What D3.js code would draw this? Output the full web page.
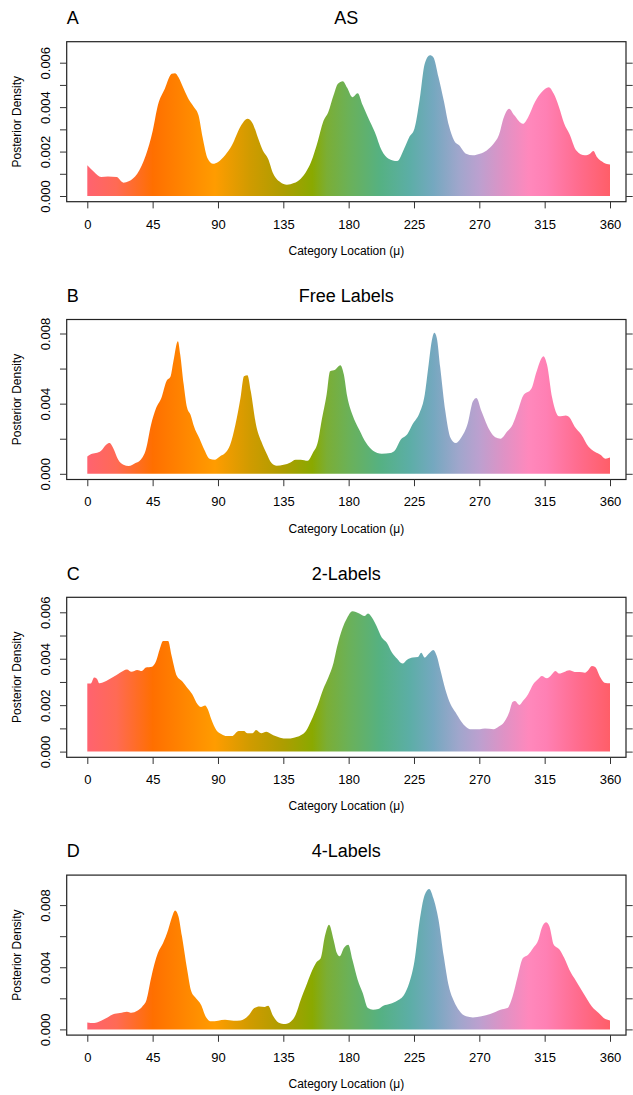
<!DOCTYPE html>
<html>
<head>
<meta charset="utf-8">
<script src="https://cdnjs.cloudflare.com/ajax/libs/d3/7.8.5/d3.min.js"></script>
<style>
  body { margin: 0; background: #fff; }
  svg { display: block; font-family: "Liberation Sans", Arial, sans-serif; }
</style>
</head>
<body>
<svg id="chart" width="633" height="1095"></svg>
<script>
// Posterior density of category locations — four panels, hue-gradient fill

// [location in degrees, density x 1e-3]
const asDensity = [
  [0,1.38],[4.7,1.08],[9.5,0.85],[14.2,0.88],[20.2,0.85],[24.9,0.60],[28.5,0.66],[34.4,1.00],
  [40.3,1.83],[45.1,2.95],[48.6,4.08],[53.4,4.83],[58.1,5.50],[60.5,5.53],[62.8,5.35],[66.4,4.83],
  [70.0,4.33],[73.5,4.00],[76.6,3.63],[79.4,2.65],[83.0,1.68],[86.6,1.45],[90.1,1.53],[94.9,1.83],
  [99.6,2.28],[105.5,3.13],[110.3,3.48],[113.8,3.28],[117.4,2.65],[120.9,2.05],[124.5,1.68],[128.1,1.00],
  [132.8,0.63],[137.5,0.51],[142.3,0.58],[147.0,0.78],[150.6,1.08],[154.1,1.53],[158.9,2.50],[162.4,3.33],
  [166.0,3.78],[169.6,4.53],[172.6,5.05],[176.0,5.17],[179.0,4.87],[182.6,4.45],[186.2,4.63],[189.7,4.08],
  [193.3,3.55],[198.0,2.88],[202.8,2.05],[207.5,1.68],[213.4,1.57],[218.2,2.13],[221.7,2.65],[225.3,3.03],
  [228.8,4.30],[232.4,5.95],[236.0,6.33],[238.3,6.25],[241.9,5.35],[245.5,4.30],[249.0,3.18],[252.6,2.50],
  [256.1,2.28],[260.9,1.90],[265.6,1.83],[270.4,1.90],[275.1,2.05],[279.8,2.35],[283.4,2.73],[286.9,3.55],
  [290.5,3.93],[294.1,3.63],[300.0,3.25],[303.6,3.55],[308.3,4.23],[313.0,4.68],[317.8,4.90],[321.3,4.60],
  [324.9,4.00],[328.5,3.25],[332.0,2.80],[336.8,2.05],[342.7,1.83],[346.2,1.90],[348.6,2.02],[351.0,1.75],
  [355.7,1.50],[360,1.42]
];

const freeDensity = [
  [0,0.99],[2.4,1.12],[5.9,1.18],[9.5,1.31],[13.0,1.66],[15.4,1.75],[17.8,1.47],[21.3,0.80],
  [24.9,0.51],[28.5,0.44],[33.2,0.61],[36.8,0.80],[40.3,1.37],[43.9,2.80],[47.4,3.75],[51.0,4.32],
  [54.5,5.28],[57.4,5.56],[59.3,6.42],[62.4,7.56],[64.0,6.80],[66.4,5.09],[68.8,3.75],[71.1,3.37],
  [73.5,2.70],[77.1,2.04],[80.6,1.37],[84.2,0.86],[87.7,0.80],[91.3,0.99],[94.9,1.18],[98.4,1.66],
  [102.0,2.80],[105.5,4.32],[107.9,5.56],[110.3,5.62],[112.6,4.70],[116.2,2.80],[119.8,1.85],[123.3,1.18],
  [126.9,0.61],[130.4,0.46],[135.2,0.51],[139.9,0.65],[143.5,0.80],[147.0,0.80],[151.8,0.74],[155.3,1.18],
  [158.9,1.85],[161.3,2.99],[164.8,4.51],[167.2,5.85],[170.7,5.94],[174.3,6.19],[176.7,5.66],[179.0,4.42],
  [182.6,3.37],[187.3,2.51],[192.1,1.75],[196.8,1.31],[202.8,1.14],[208.7,1.18],[212.2,1.37],[215.8,1.94],
  [220.5,2.27],[224.1,2.84],[228.8,3.47],[232.4,4.51],[234.8,6.04],[237.2,7.56],[239.0,8.04],[240.7,7.75],
  [243.1,6.04],[246.6,3.56],[250.2,2.04],[253.7,1.75],[257.3,2.04],[262.1,2.90],[265.6,4.13],[268.0,4.32],
  [271.5,3.56],[277.5,2.42],[281.0,2.08],[284.6,2.00],[289.3,2.42],[292.9,2.80],[296.4,3.56],[300.0,4.42],
  [305.9,4.86],[309.5,5.85],[314.2,6.70],[316.6,6.23],[320.2,4.32],[324.9,3.28],[329.6,3.33],[332.0,3.22],
  [335.6,2.70],[340.3,2.23],[345.1,1.56],[349.8,1.24],[353.4,1.09],[356.9,0.86],[360,0.93]
];

const twoLabelDensity = [
  [0,2.93],[2.4,2.93],[4.7,3.19],[6.6,3.14],[8.3,2.94],[13.0,3.04],[17.8,3.21],[22.5,3.40],
  [27.3,3.54],[30.4,3.44],[34.4,3.52],[37.5,3.47],[40.3,3.62],[44.6,3.66],[47.4,3.90],[49.8,4.40],
  [52.2,4.76],[55.7,4.76],[58.1,4.12],[61.7,3.26],[65.2,3.04],[68.8,2.75],[72.3,2.47],[75.9,2.04],
  [78.3,1.92],[81.1,1.99],[83.0,1.82],[85.4,1.39],[88.9,0.92],[92.5,0.75],[96.0,0.67],[99.6,0.67],
  [104.3,0.89],[107.9,0.89],[110.3,0.79],[113.8,0.79],[116.2,0.93],[119.8,0.79],[123.3,0.85],[128.1,0.70],
  [132.8,0.60],[137.5,0.56],[142.3,0.60],[147.0,0.70],[150.6,0.89],[154.1,1.32],[158.9,2.04],[162.4,2.68],
  [166.0,3.19],[169.6,3.83],[171.9,4.48],[175.5,5.27],[179.0,5.77],[182.6,6.05],[187.3,5.95],[190.9,5.84],
  [193.3,5.95],[196.8,5.70],[199.2,5.41],[202.8,4.91],[206.3,4.69],[209.9,4.26],[213.4,4.00],[217.0,3.79],
  [220.5,3.97],[224.1,4.05],[227.7,4.08],[230.0,4.26],[232.4,4.05],[234.8,4.19],[238.3,4.38],[240.7,4.12],
  [243.1,3.54],[246.6,2.68],[250.2,2.04],[253.7,1.68],[257.3,1.32],[260.9,1.06],[264.4,0.96],[270.4,0.96],
  [273.9,0.99],[279.8,0.96],[283.4,1.08],[286.9,1.25],[290.5,1.68],[292.9,2.14],[294.5,2.18],[297.6,2.01],
  [300.0,2.18],[303.6,2.47],[307.1,2.90],[310.7,3.14],[313.0,3.26],[316.6,3.16],[319.0,3.26],[322.5,3.47],
  [324.9,3.36],[328.5,3.43],[332.0,3.50],[335.6,3.43],[339.1,3.43],[342.7,3.40],[345.1,3.52],[347.5,3.69],
  [349.8,3.64],[353.4,3.19],[356.2,2.97],[360,2.94]
];

const fourLabelDensity = [
  [0,0.45],[4.7,0.41],[9.5,0.56],[14.2,0.79],[17.8,0.97],[22.5,1.05],[27.3,1.14],[30.4,1.07],
  [34.4,1.20],[37.9,1.48],[40.8,1.91],[43.9,3.30],[48.6,4.91],[52.2,5.56],[55.7,6.42],[58.1,7.17],
  [60.5,7.66],[62.8,7.27],[65.2,5.99],[68.8,3.84],[71.6,2.45],[74.7,2.02],[78.3,1.59],[81.8,0.79],
  [85.4,0.52],[90.1,0.56],[94.9,0.62],[100.8,0.56],[105.5,0.58],[111.5,0.94],[115.0,1.37],[118.6,1.48],
  [122.1,1.44],[124.5,1.52],[128.1,0.84],[131.6,0.45],[136.4,0.34],[140.4,0.52],[143.5,0.94],[147.0,1.91],
  [150.6,2.77],[154.1,3.63],[157.7,4.31],[160.8,4.59],[163.6,5.99],[166.5,6.74],[169.6,5.77],[171.9,4.91],
  [173.8,4.70],[176.7,5.24],[179.8,5.45],[182.6,4.48],[186.2,3.20],[189.7,2.34],[193.3,1.37],[196.8,1.27],
  [200.4,1.31],[203.9,1.52],[208.7,1.65],[213.4,1.85],[218.2,2.23],[221.7,2.98],[225.3,4.38],[228.8,6.95],
  [232.4,8.67],[235.5,9.03],[238.3,8.45],[241.9,7.06],[245.5,4.70],[249.0,2.77],[252.6,1.80],[256.1,1.22],
  [260.9,0.84],[265.6,0.77],[271.5,0.84],[277.5,0.99],[284.6,1.27],[289.3,1.37],[292.9,2.12],[296.4,3.41],
  [300.0,4.59],[303.6,4.81],[307.1,5.24],[310.7,5.77],[313.0,6.52],[315.9,6.89],[318.3,6.63],[321.3,5.45],
  [324.9,5.17],[328.5,4.59],[332.0,3.84],[336.8,3.09],[341.6,2.34],[347.5,1.48],[352.2,1.05],[355.7,0.73],
  [360,0.58]
];

const densityUnit = 1e-3;
const panelLetters = ['A', 'B', 'C', 'D'];
const panelTitles = ['AS', 'Free Labels', '2-Labels', '4-Labels'];
const panelSeries = [asDensity, freeDensity, twoLabelDensity, fourLabelDensity];
const yTickMax = [0.006, 0.008, 0.006, 0.008];
const yTickStep = [0.001, 0.002, 0.001, 0.002];
const xTicks = [0, 45, 90, 135, 180, 225, 270, 315, 360];

// hue ramp along the category circle
const hueStops = [
  [0, '#ff6370'], [20, '#ff6a55'], [45, '#ff6f00'], [65, '#ff8400'], [88, '#ff9c00'],
  [112, '#d09b00'], [135, '#ad9d00'], [155, '#8aa900'], [165, '#7bae35'], [180, '#6bb158'],
  [202, '#55b183'], [222, '#5caea6'], [238, '#74a8bf'], [256, '#a0a6cc'], [270, '#bca0cf'],
  [287, '#df92c5'], [304, '#ff88bc'], [316, '#ff80b4'], [338, '#ff6c8e'], [360, '#ff5e68']
];

// --- Layout ---
const boxLeft = 66.7, boxRight = 626, boxH = 160;
const firstTop = 41.7, pitch = 277.8;
const zeroOff = 154.3;
const maxTickOff = [21, 14, 15, 30];
const tickLen = 6.7;

const svg = d3.select('#chart');
const x = d3.scaleLinear().domain([0, 360]).range([87.3, 610]);

const grad = svg.append('defs').append('linearGradient')
  .attr('id', 'hue').attr('gradientUnits', 'userSpaceOnUse')
  .attr('x1', x(0)).attr('x2', x(360)).attr('y1', 0).attr('y2', 0);
grad.selectAll('stop').data(hueStops).join('stop')
  .attr('offset', d => d[0] / 360)
  .attr('stop-color', d => d[1]);

panelSeries.forEach((series, i) => {
  const top = firstTop + i * pitch;
  const g = svg.append('g');

  const y = d3.scaleLinear()
    .domain([0, yTickMax[i]])
    .range([top + zeroOff, top + maxTickOff[i]]);

  const area = d3.area()
    .x(d => x(d[0]))
    .y0(y(0))
    .y1(d => y(d[1] * densityUnit))
    .curve(d3.curveMonotoneX);

  g.append('path').datum(series)
    .attr('d', area)
    .attr('fill', 'url(#hue)');

  // frame
  g.append('rect')
    .attr('x', boxLeft).attr('y', top)
    .attr('width', boxRight - boxLeft).attr('height', boxH)
    .attr('fill', 'none').attr('stroke', '#222').attr('stroke-width', 1.2);

  // x axis
  const xa = g.append('g')
    .attr('transform', `translate(0,${top + boxH})`)
    .call(d3.axisBottom(x).tickValues(xTicks).tickSize(tickLen).tickPadding(11));
  xa.select('.domain').remove();
  xa.selectAll('line').attr('stroke', '#333');
  xa.selectAll('text').attr('font-size', 13).attr('fill', '#000')
    .attr('font-family', '"Liberation Sans", Arial, sans-serif');

  // y axis, labels on every other tick, rotated
  const yTicks = d3.range(0, yTickMax[i] + yTickStep[i] / 2, yTickStep[i]);
  const labelEvery = Math.round((yTickMax[i] / 3) / yTickStep[i]) || 1;
  const ya = g.append('g')
    .attr('transform', `translate(${boxLeft},0)`)
    .call(d3.axisLeft(y).tickValues(yTicks).tickSize(tickLen)
      .tickFormat((d, k) => k % 2 === 0 ? d3.format('.3f')(d) : ''));
  ya.select('.domain').remove();
  ya.selectAll('line').attr('stroke', '#333');
  ya.selectAll('text')
    .attr('x', 0).attr('y', -16.7).attr('dy', 0)
    .attr('transform', 'rotate(-90)')
    .attr('text-anchor', 'middle')
    .attr('font-size', 13).attr('fill', '#000')
    .attr('font-family', '"Liberation Sans", Arial, sans-serif');

  // right side ticks, no labels
  const yr = g.append('g')
    .attr('transform', `translate(${boxRight},0)`)
    .call(d3.axisRight(y).tickValues(yTicks).tickSize(tickLen).tickFormat(''));
  yr.select('.domain').remove();
  yr.selectAll('line').attr('stroke', '#333');

  // titles
  g.append('text')
    .attr('x', boxLeft).attr('y', top - 17.7)
    .attr('font-size', 18).text(panelLetters[i]);
  g.append('text')
    .attr('x', (boxLeft + boxRight) / 2).attr('y', top - 17.7)
    .attr('text-anchor', 'middle')
    .attr('font-size', 18).text(panelTitles[i]);

  g.append('text')
    .attr('x', (boxLeft + boxRight) / 2).attr('y', top + 213)
    .attr('text-anchor', 'middle').attr('font-size', 12)
    .text('Category Location (μ)');

  g.append('text')
    .attr('transform', `translate(20.5,${top + boxH / 2}) rotate(-90)`)
    .attr('text-anchor', 'middle').attr('font-size', 12)
    .text('Posterior Density');
});
</script>
</body>
</html>
